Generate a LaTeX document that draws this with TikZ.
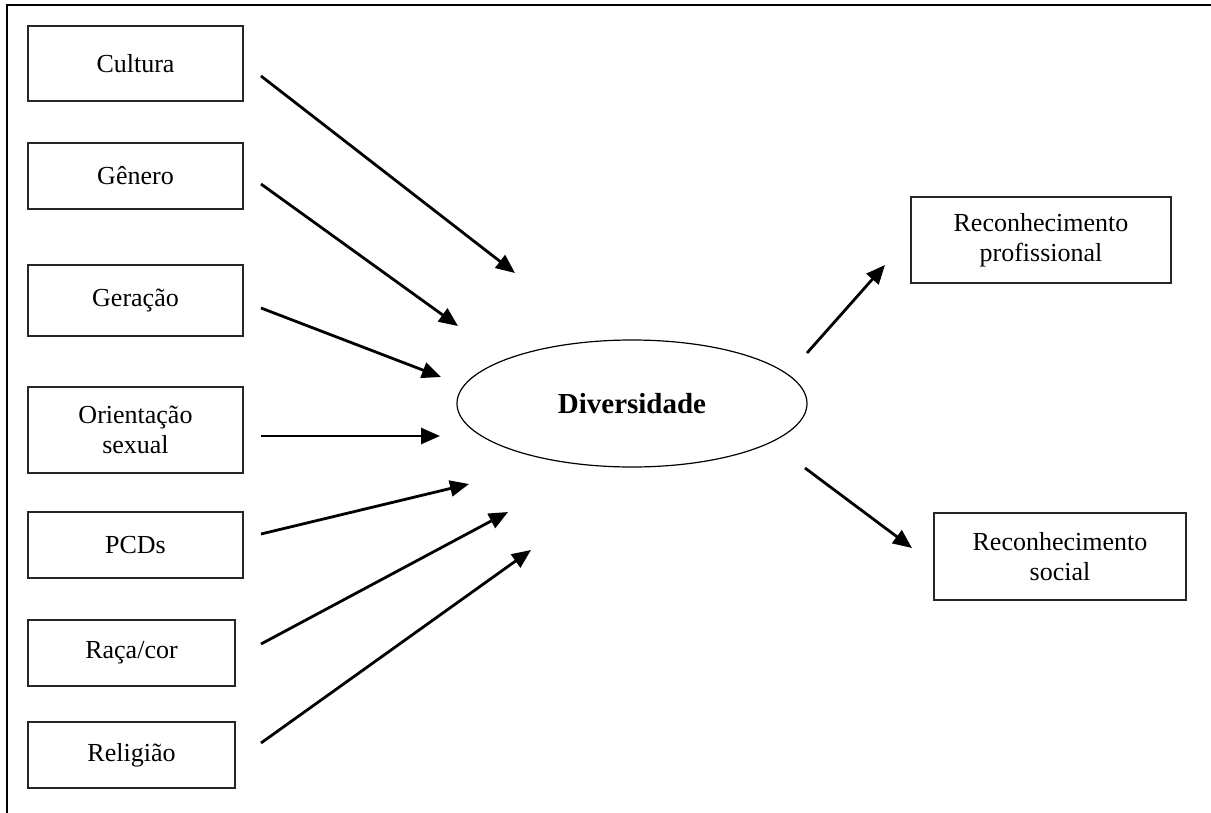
\documentclass[tikz,border=0pt]{standalone}
\usepackage{fontspec}
\setmainfont{Liberation Serif}
\usetikzlibrary{arrows.meta,shapes.geometric}
\begin{document}
\begin{tikzpicture}[x=1pt,y=-1pt,
  box/.style={draw=black!85,line width=1.3pt,inner sep=0pt,align=center,
    font=\fontsize{26}{30}\selectfont},
  arr/.style={line width=2.8pt,-{Triangle[length=19pt,width=16pt]}},
  oval/.style={draw,ellipse,line width=1.2pt,inner sep=0pt,
    font=\fontsize{29}{33}\selectfont\bfseries}]
\useasboundingbox (0,0) rectangle (1211,812);
\begin{scope}
\clip (0,0) rectangle (1211,812);
\draw[line width=2.6pt] (7,830) -- (7,5) -- (1230,5);
\end{scope}
% left boxes
\node[box,minimum width=215pt,minimum height=75pt] (cul) at (135.5,63.5) {Cultura};
\node[box,minimum width=215pt,minimum height=66pt] (gen) at (135.5,176) {Gênero};
\node[box,minimum width=215pt,minimum height=71pt] (ger) at (135.5,300.5) {Geração};
\node[box,minimum width=215pt,minimum height=86pt] (ori) at (135.5,430) {Orientação\\sexual};
\node[box,minimum width=215pt,minimum height=66pt] (pcd) at (135.5,545) {PCDs};
\node[box,minimum width=207pt,minimum height=66pt] (rac) at (131.5,653) {Raça/cor};
\node[box,minimum width=207pt,minimum height=66pt] (rel) at (131.5,755) {Religião};
% center
\node[oval,minimum width=350pt,minimum height=127pt] (div) at (632,403.5) {Diversidade};
% right boxes
\node[box,minimum width=260pt,minimum height=86pt] (rp) at (1041,240) {Reconhecimento\\profissional};
\node[box,minimum width=252pt,minimum height=87pt] (rs) at (1060,556.5) {Reconhecimento\\social};
% arrow end points
\coordinate (c1s) at (261,76);  \coordinate (c1e) at (515,273);
\coordinate (c2s) at (261,184); \coordinate (c2e) at (458,326);
\coordinate (c3s) at (261,308); \coordinate (c3e) at (441,377);
\coordinate (c4s) at (261,436); \coordinate (c4e) at (440,436);
\coordinate (c5s) at (261,534); \coordinate (c5e) at (469,484);
\coordinate (c6s) at (261,644); \coordinate (c6e) at (508,512);
\coordinate (c7s) at (261,743); \coordinate (c7e) at (531,550);
\coordinate (r1s) at (807,353); \coordinate (r1e) at (885,265);
\coordinate (r2s) at (805,468); \coordinate (r2e) at (912,548);
\draw[arr] (c1s) -- (c1e);
\draw[arr] (c2s) -- (c2e);
\draw[arr] (c3s) -- (c3e);
\draw[arr] (c4s) -- (c4e);
\draw[arr] (c5s) -- (c5e);
\draw[arr] (c6s) -- (c6e);
\draw[arr] (c7s) -- (c7e);
\draw[arr] (r1s) -- (r1e);
\draw[arr] (r2s) -- (r2e);
\end{tikzpicture}
\end{document}
